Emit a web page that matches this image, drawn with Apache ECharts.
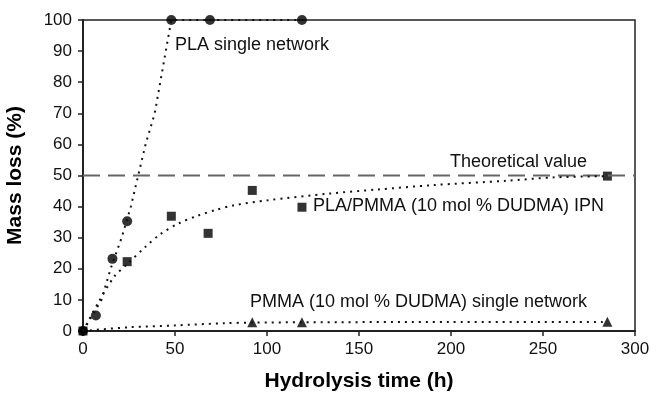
<!DOCTYPE html>
<html>
<head>
<meta charset="utf-8">
<script src="https://cdn.jsdelivr.net/npm/echarts@6/dist/echarts.min.js"></script>
<style>
  html, body { margin: 0; padding: 0; background: #fff; }
  #chart { width: 656px; height: 393px; }
</style>
</head>
<body>
<div id="chart"></div>
<script>
// measured points (hours, % mass loss)
var plaX = [0, 7, 16, 24, 48, 69, 119];
var plaY = [0, 5, 23.2, 35.3, 100, 100, 100];

var ipnX = [24, 48, 68, 92, 119, 285, 0];
var ipnY = [22.3, 36.9, 31.4, 45.2, 39.8, 49.8, 0];

var pmmaX = [92, 119, 285];
var pmmaY = [2.8, 2.8, 3.0];

// dotted trend lines
var plaTrendX = [0, 3, 10, 15, 21, 26, 30, 34, 39, 42, 45, 48, 69, 119];
var plaTrendY = [0, 3, 10, 20, 30, 40, 50, 60, 70, 80, 90, 100, 100, 100];

var ipnTrendX = [0, 8, 17, 24, 34, 42, 52, 62, 72, 82, 100, 134, 160, 190, 230, 256, 285];
var ipnTrendY = [0, 8.8, 17.5, 21.5, 27.1, 31.1, 34.6, 37, 38.9, 40.4, 42, 44.2, 45.5, 46.9, 48.3, 49.4, 49.8];

var pmmaTrendX = [0, 25, 50, 77, 92, 119, 200, 285];
var pmmaTrendY = [0, 1.2, 1.8, 2.5, 2.7, 2.8, 2.9, 2.9];

var theoX = [0, 300];
var theoY = [50, 50];

var xTicks = [0, 50, 100, 150, 200, 250, 300];
var yTicks = [0, 10, 20, 30, 40, 50, 60, 70, 80, 90, 100];

function pairs(xs, ys) {
  return xs.map(function (x, i) { return [x, ys[i]]; });
}

var chart = echarts.init(document.getElementById('chart'));

var FONT = '"Liberation Sans", Arial, sans-serif';

var option = {
  animation: false,
  backgroundColor: '#fff',
  grid: {
    left: 83, right: 21, top: 20, bottom: 62,
    outerBoundsMode: 'none',
    containLabel: false,
    show: true, borderColor: '#222', borderWidth: 1.5
  },
  xAxis: {
    type: 'value',
    min: xTicks[0], max: xTicks[xTicks.length - 1], interval: 50,
    name: 'Hydrolysis time (h)',
    nameLocation: 'middle', nameGap: 40,
    nameTextStyle: { fontFamily: FONT, color: '#000', fontSize: 21, fontWeight: 'bold' },
    axisLine: { show: true, onZero: false, lineStyle: { color: '#222', width: 2 } },
    axisTick: { show: true, inside: false, length: 5, lineStyle: { color: '#222', width: 1.5 } },
    axisLabel: { fontFamily: FONT, color: '#111', fontSize: 17, margin: 10 },
    splitLine: { show: false }
  },
  yAxis: {
    type: 'value',
    min: yTicks[0], max: yTicks[yTicks.length - 1], interval: 10,
    name: 'Mass loss (%)',
    nameLocation: 'middle', nameGap: 57,
    nameTextStyle: { fontFamily: FONT, color: '#000', fontSize: 21, fontWeight: 'bold' },
    axisLine: { show: true, onZero: false, lineStyle: { color: '#222', width: 2 } },
    axisTick: { show: true, inside: false, length: 5, lineStyle: { color: '#222', width: 1.5 } },
    axisLabel: { fontFamily: FONT, color: '#111', fontSize: 17, margin: 11 },
    splitLine: { show: false }
  },
  series: [
    {
      name: 'Theoretical value', type: 'line', data: pairs(theoX, theoY),
      showSymbol: false, silent: true,
      lineStyle: { color: '#666', width: 2, type: [17, 8] }
    },
    {
      name: 'PLA trend', type: 'line', data: pairs(plaTrendX, plaTrendY),
      showSymbol: false, clip: false,
      lineStyle: { color: '#111', width: 2, type: [2, 5] }
    },
    {
      name: 'IPN trend', type: 'line', data: pairs(ipnTrendX, ipnTrendY),
      showSymbol: false, smooth: 0.3,
      lineStyle: { color: '#111', width: 2, type: [2, 5] }
    },
    {
      name: 'PMMA trend', type: 'line', data: pairs(pmmaTrendX, pmmaTrendY),
      showSymbol: false, smooth: 0.3,
      lineStyle: { color: '#111', width: 2, type: [2, 5] }
    },
    {
      name: 'PLA single network', type: 'scatter', data: pairs(plaX, plaY),
      symbol: 'circle', symbolSize: 10, clip: false,
      itemStyle: { color: '#000' }
    },
    {
      name: 'PMMA (10 mol % DUDMA) single network', type: 'scatter', data: pairs(pmmaX, pmmaY),
      symbol: 'triangle', symbolSize: 10,
      itemStyle: { color: '#000' }
    },
    {
      name: 'PLA/PMMA (10 mol % DUDMA) IPN', type: 'scatter', data: pairs(ipnX, ipnY),
      symbol: 'rect', symbolSize: 9, clip: false,
      itemStyle: { color: '#000' }
    }
  ],
  graphic: [
    { type: 'text', left: 175, top: 36, style: { text: 'PLA single network', font: '18px ' + FONT, fill: '#111' } },
    { type: 'text', right: 69, top: 153, style: { text: 'Theoretical value', font: '18px ' + FONT, fill: '#111' } },
    { type: 'text', left: 313, top: 197, style: { text: 'PLA/PMMA (10 mol % DUDMA) IPN', font: '18px ' + FONT, fill: '#111' } },
    { type: 'text', left: 250, top: 293, style: { text: 'PMMA (10 mol % DUDMA) single network', font: '18px ' + FONT, fill: '#111' } }
  ]
};

chart.setOption(option);
</script>
</body>
</html>
